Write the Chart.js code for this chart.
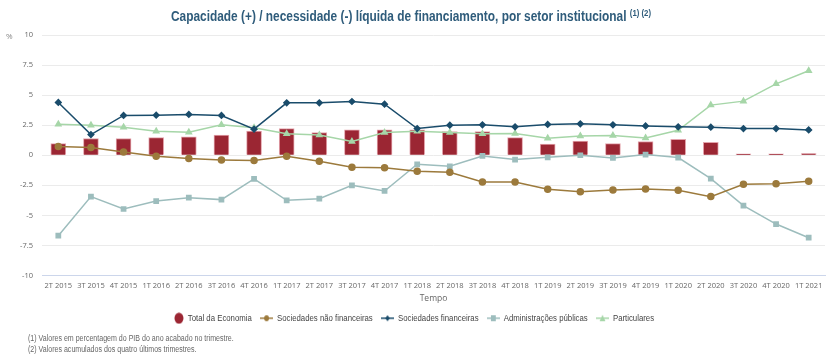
<!DOCTYPE html>
<html>
<head>
<meta charset="utf-8">
<script src="https://cdn.jsdelivr.net/npm/chart.js@4.4.0/dist/chart.umd.min.js"></script>
<style>
html,body{margin:0;padding:0;background:#fff;}
#wrap{position:relative;width:831px;height:358px;}
#c{position:absolute;left:0;top:0;}
#title{position:absolute;left:0;top:7px;width:822px;text-align:center;font-family:"Liberation Sans",Arial,sans-serif;font-size:14.5px;font-weight:bold;color:#2F5C7B;white-space:nowrap;transform:scaleX(0.82);transform-origin:411px 0;}
#title sup{font-size:9.5px;vertical-align:5px;}
.note{position:absolute;left:28px;font-family:"Liberation Sans",Arial,sans-serif;font-size:8.5px;color:#666;white-space:nowrap;transform:scaleX(0.83);transform-origin:0 0;}
</style>
</head>
<body>
<div id="wrap">
<canvas id="c" width="831" height="358"></canvas>
<div id="title">Capacidade (+) / necessidade (-) líquida de financiamento, por setor institucional <sup>(1) (2)</sup></div>
<div class="note" style="top:333px">(1) Valores em percentagem do PIB do ano acabado no trimestre.</div>
<div class="note" style="top:344px">(2) Valores acumulados dos quatro últimos trimestres.</div>
</div>
<script>
const categories = ["2T 2015","3T 2015","4T 2015","1T 2016","2T 2016","3T 2016","4T 2016","1T 2017","2T 2017","3T 2017","4T 2017","1T 2018","2T 2018","3T 2018","4T 2018","1T 2019","2T 2019","3T 2019","4T 2019","1T 2020","2T 2020","3T 2020","4T 2020","1T 2021"];
const totalEconomia = [0.97,1.39,1.39,1.47,1.53,1.67,2.0,2.22,1.89,2.11,2.11,2.11,1.97,1.97,1.47,0.92,1.17,0.97,1.14,1.33,1.08,0.11,0.11,0.14];
const socNaoFin = [0.72,0.64,0.28,-0.08,-0.28,-0.39,-0.44,-0.08,-0.5,-1.0,-1.03,-1.33,-1.42,-2.22,-2.22,-2.83,-3.03,-2.89,-2.81,-2.92,-3.44,-2.42,-2.36,-2.17];
const socFin = [4.39,1.72,3.31,3.33,3.39,3.31,2.17,4.36,4.36,4.47,4.25,2.22,2.5,2.53,2.36,2.56,2.61,2.53,2.44,2.36,2.33,2.22,2.22,2.11];
const adminPub = [-6.69,-3.44,-4.47,-3.81,-3.53,-3.69,-1.97,-3.75,-3.61,-2.5,-2.97,-0.75,-0.92,-0.06,-0.36,-0.17,0.0,-0.22,0.06,-0.19,-1.94,-4.19,-5.72,-6.86];
const particulares = [2.58,2.5,2.33,2.0,1.92,2.53,2.28,1.78,1.69,1.14,1.89,2.0,1.89,1.78,1.81,1.42,1.61,1.64,1.44,2.08,4.17,4.5,5.94,7.03];
const yTicks = [-10,-7.5,-5,-2.5,0,2.5,5,7.5,10];

const C_BAR='#9B2633', C_BAR_B='#E3A4AC', C_BROWN='#9C7A3C', C_NAVY='#1A4C6B', C_TEAL='#9DBDBD', C_GREEN='#A6D6A8';

function legendIcon(color, style){
  const cv=document.createElement('canvas'); cv.width=16; cv.height=10;
  const x=cv.getContext('2d');
  x.strokeStyle=color; x.fillStyle=color; x.lineWidth=1.5;
  x.beginPath(); x.moveTo(0,5); x.lineTo(16,5); x.stroke();
  x.beginPath();
  if(style==='circle'){x.arc(8,5,3,0,Math.PI*2);}
  else if(style==='rect'){x.rect(5,2,6,6);}
  else if(style==='triangle'){x.moveTo(8,1.5);x.lineTo(11.5,8);x.lineTo(4.5,8);x.closePath();}
  else {x.moveTo(8,2);x.lineTo(11,5);x.lineTo(8,8);x.lineTo(5,5);x.closePath();}
  x.fill();
  return cv;
}
function dotIcon(color){
  const cv=document.createElement('canvas'); cv.width=16; cv.height=12;
  const x=cv.getContext('2d'); x.fillStyle=color; x.beginPath(); x.arc(10,6,5.5,0,Math.PI*2); x.fill();
  return cv;
}

const pctPlugin={id:'pct',afterDraw(ch){const x=ch.ctx;x.save();x.font='8px "Open Sans",sans-serif';x.fillStyle='#888';x.textAlign='left';x.textBaseline='middle';x.fillText('%',6,37);x.restore();}};

const chart = new Chart(document.getElementById('c'),{
  data:{labels:categories,datasets:[
    {type:'bar',label:'Total da Economia',data:totalEconomia,backgroundColor:C_BAR,borderColor:C_BAR_B,borderWidth:1,barThickness:15,order:10,icon:dotIcon(C_BAR)},
    {type:'line',label:'Sociedades não financeiras',data:socNaoFin,borderColor:C_BROWN,backgroundColor:C_BROWN,borderWidth:1.5,pointStyle:'circle',pointRadius:3,tension:0,order:1,icon:legendIcon(C_BROWN,'circle')},
    {type:'line',label:'Sociedades financeiras',data:socFin,borderColor:C_NAVY,backgroundColor:C_NAVY,borderWidth:1.5,pointStyle:'rectRot',pointRadius:2.8,tension:0,order:1,icon:legendIcon(C_NAVY,'diamond')},
    {type:'line',label:'Administrações públicas',data:adminPub,borderColor:C_TEAL,backgroundColor:C_TEAL,borderWidth:1.5,pointStyle:'rect',pointRadius:3,tension:0,order:1,icon:legendIcon(C_TEAL,'rect')},
    {type:'line',label:'Particulares',data:particulares,borderColor:C_GREEN,backgroundColor:C_GREEN,borderWidth:1.5,pointStyle:'triangle',pointRadius:3,tension:0,order:1,icon:legendIcon(C_GREEN,'triangle')}
  ]},
  options:{
    responsive:false,animation:false,
    layout:{padding:{left:0,right:6,top:35,bottom:25}},
    plugins:{
      title:{display:false},
      legend:{position:'bottom',labels:{usePointStyle:true,pointStyleWidth:16,color:'#444',font:{family:'"Liberation Sans",Arial,sans-serif',size:9.5},padding:10,
        generateLabels(ch){return ch.data.datasets.map((d,i)=>({text:d.label,pointStyle:d.icon,fillStyle:d.backgroundColor,strokeStyle:d.borderColor,lineWidth:0,hidden:false,datasetIndex:i,fontColor:'#444'}));}}},
      tooltip:{enabled:false}
    },
    scales:{
      x:{grid:{display:false,drawTicks:false},border:{display:true,color:'#CCD6EB'},ticks:{color:'#666',font:{family:'"Open Sans",sans-serif',size:7.5},maxRotation:0,autoSkip:false,padding:6},
        afterFit(s){s.height=28;},
        title:{display:true,text:'Tempo',color:'#666',font:{family:'"Open Sans",sans-serif',size:8.5},padding:{top:0,bottom:0}}},
      y:{min:-10,max:10,afterBuildTicks(s){s.ticks=yTicks.map(v=>({value:v}));},
        afterFit(s){s.width=42;},
        grid:{color:'#EBEBEB',drawTicks:false},border:{display:false},
        ticks:{color:'#666',font:{family:'"Open Sans",sans-serif',size:7.5},padding:9,callback:v=>String(v)}}
    }
  },
  plugins:[pctPlugin]
});
// horizontally condense the legend text to match the reference's narrow font
const origLegendDraw = chart.legend.draw;
chart.legend.draw = function(){
  const ctx=this.ctx; ctx.save();
  ctx.translate(412,0); ctx.scale(0.82,1); ctx.translate(-412,0);
  origLegendDraw.apply(this, arguments);
  ctx.restore();
};
chart.draw();
</script>
</body>
</html>
